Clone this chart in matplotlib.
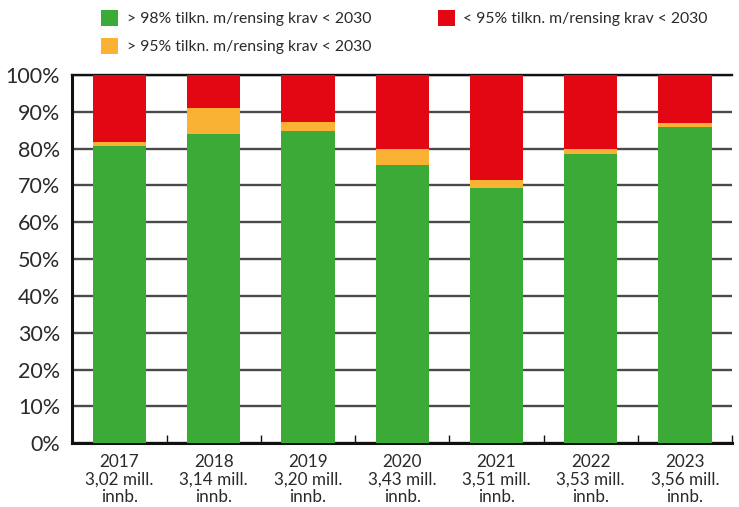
import matplotlib
matplotlib.use("Agg")
import matplotlib.pyplot as plt
from matplotlib.patches import Rectangle
import numpy as np

plt.rcParams['font.family'] = ['Lato', 'DejaVu Sans']

years = ["2017", "2018", "2019", "2020", "2021", "2022", "2023"]
population = ["3,02 mill.", "3,14 mill.", "3,20 mill.", "3,43 mill.", "3,51 mill.", "3,53 mill.", "3,56 mill."]
green_vals = [80.8, 84.0, 84.9, 75.6, 69.4, 78.6, 85.9]
orange_vals = [1.1, 7.1, 2.4, 4.3, 2.1, 1.3, 1.1]
red_vals = [100 - g - o for g, o in zip(green_vals, orange_vals)]

labels = ["> 98% tilkn. m/rensing krav < 2030",
          "> 95% tilkn. m/rensing krav < 2030",
          "< 95% tilkn. m/rensing krav < 2030"]
colors = ["#3caa36", "#f9b233", "#e30613"]
text_color = "#2a2a2a"

W, H = 739, 507
fig = plt.figure(figsize=(W / 100, H / 100), dpi=100)
ax = fig.add_axes([0.098, 0.126, 0.8925, 0.726])

x = np.arange(len(years))
w = 0.566
ax.bar(x, green_vals, w, color=colors[0], zorder=3)
ax.bar(x, orange_vals, w, bottom=green_vals, color=colors[1], zorder=3)
ax.bar(x, red_vals, w, bottom=np.array(green_vals) + np.array(orange_vals), color=colors[2], zorder=3)

ax.set_xlim(-0.5, len(years) - 0.5)
ax.set_ylim(0, 100)
ax.set_yticks(np.arange(0, 101, 10))
ax.set_yticklabels([f"{v}%" for v in range(0, 101, 10)])
ax.yaxis.grid(True, color="#4a4a4a", linewidth=1.7, zorder=1)
ax.set_axisbelow(True)

for s in ["top", "right"]:
    ax.spines[s].set_visible(False)
ax.spines["left"].set_linewidth(2.2)
ax.spines["bottom"].set_linewidth(2.2)
ax.spines["left"].set_color("#111111")
ax.spines["bottom"].set_color("#111111")
ax.axhline(100, color="#111111", linewidth=1.7, zorder=2, clip_on=False)

ax.tick_params(axis="y", length=0, pad=9, labelsize=15.5, labelcolor=text_color)
ax.set_xticks(np.arange(-0.5, len(years), 1.0))
ax.set_xticklabels([])
ax.tick_params(axis="x", direction="in", length=6, width=1.0, color="#111111")
ax.set_xticks(x, minor=True)
ax.set_xticklabels([f"{y}\n{p}\ninnb." for y, p in zip(years, population)], minor=True)
ax.tick_params(axis="x", which="minor", length=0, pad=8, labelsize=12.3, labelcolor=text_color)
for t in ax.get_xticklabels(minor=True):
    t.set_linespacing(1.1)

# legend (manual layout, pixel positions converted to figure fraction)
legend_items = [(colors[0], labels[0], 101, 10, 127),
                (colors[1], labels[1], 101, 38, 127),
                (colors[2], labels[2], 438, 10, 463)]
for c, lab, sx, sy, tx in legend_items:
    fig.add_artist(Rectangle((sx / W, 1 - (sy + 16) / H), 17 / W, 16 / H,
                             transform=fig.transFigure, facecolor=c, edgecolor="none"))
    fig.text(tx / W, 1 - (sy + 8.5) / H, lab, ha="left", va="center",
             fontsize=11.3, color=text_color)

fig.savefig("out.png", dpi=100)
